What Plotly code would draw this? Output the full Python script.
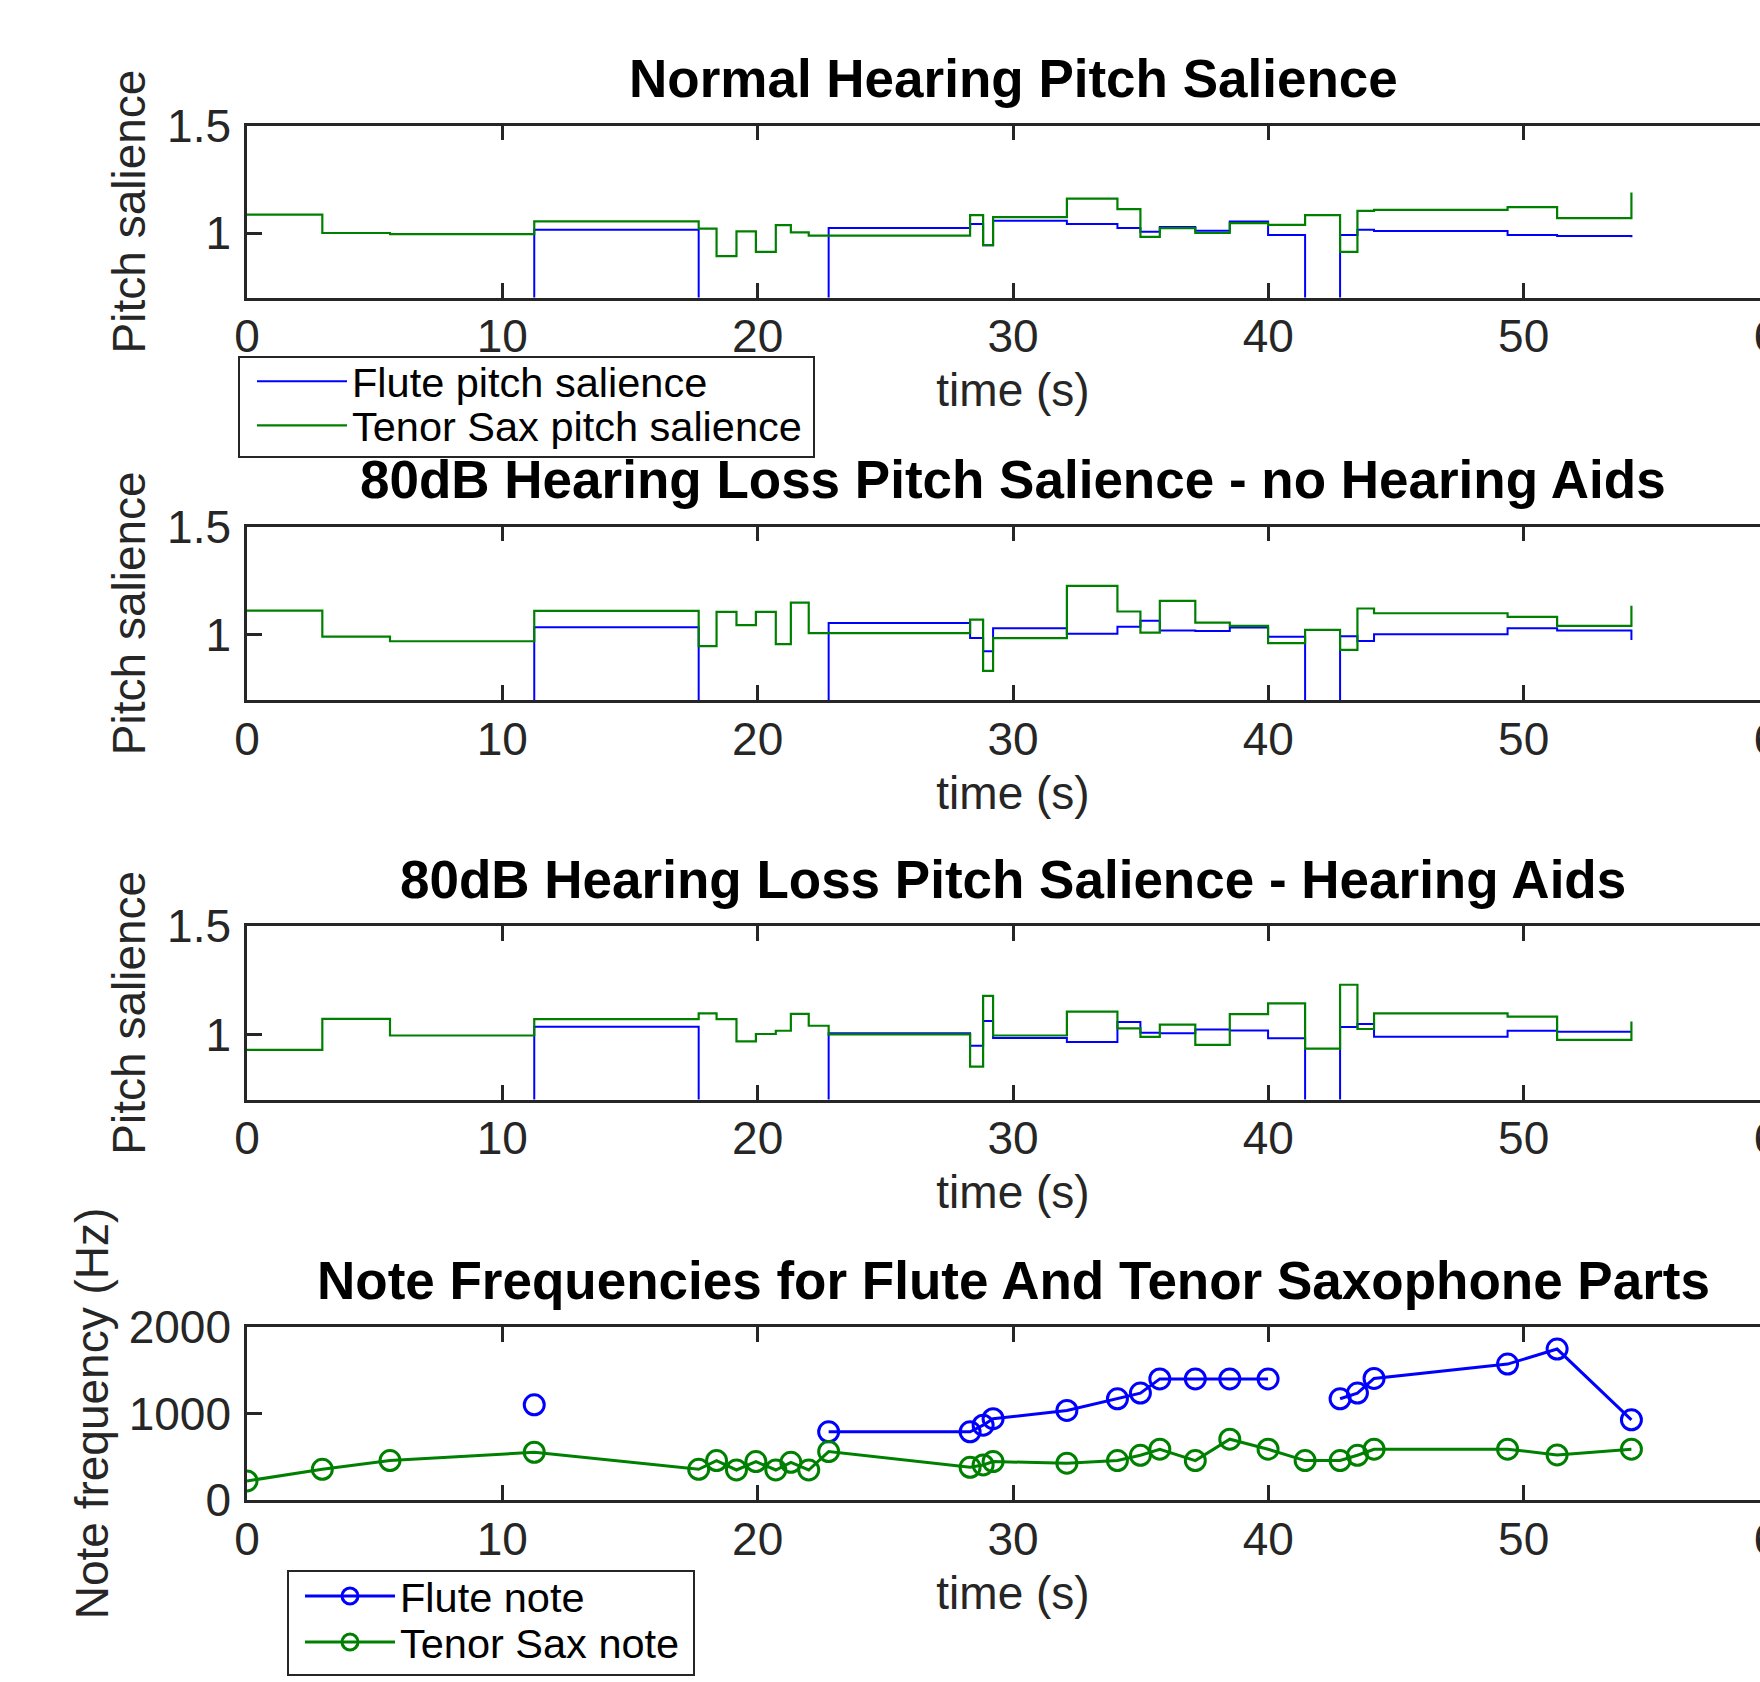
import plotly.graph_objects as go

# ---------------------------------------------------------------- data
# note onset times (s) shared by both parts
onset_times = [0, 2.95, 5.6, 11.25, 17.69, 18.39, 19.17, 19.93, 20.71, 21.3, 22.0,
               22.78, 28.32, 28.83, 29.22, 32.11, 34.09, 34.99, 35.75, 37.14, 38.49,
               39.99, 41.44, 42.81, 43.49, 44.14, 49.37, 51.31, 54.22]

# pitch salience per note (0 = part is resting)
flute_salience_normal = [0, 0, 0, 1.015, 0, 0, 0, 0, 0, 0, 0, 1.023, 1.042, 0.943, 1.057,
                         1.042, 1.023, 1.006, 1.028, 1.011, 1.054, 0.991, 0, 0.991, 1.015,
                         1.009, 0.991, 0.986, 0.98]
sax_salience_normal = [1.085, 1.0, 0.995, 1.054, 1.02, 0.892, 1.008, 0.912, 1.037, 1.003,
                       0.988, 0.988, 1.083, 0.943, 1.074, 1.16, 1.111, 0.982, 1.023, 1.0,
                       1.046, 1.038, 1.083, 0.912, 1.103, 1.108, 1.12, 1.069, 1.188]

flute_salience_loss = [0, 0, 0, 1.035, 0, 0, 0, 0, 0, 0, 0, 1.055, 0.986, 0.925, 1.031,
                       1.005, 1.038, 1.065, 1.02, 1.018, 1.034, 0.992, 0, 0.994, 0.972,
                       1.003, 1.031, 1.02, 0.977]
sax_salience_loss = [1.112, 0.992, 0.971, 1.111, 0.948, 1.106, 1.045, 1.106, 0.958, 1.149,
                     1.008, 1.008, 1.071, 0.834, 0.985, 1.226, 1.108, 1.011, 1.157, 1.057,
                     1.042, 0.962, 1.023, 0.931, 1.122, 1.1, 1.083, 1.042, 1.135]

flute_salience_aided = [0, 0, 0, 1.035, 0, 0, 0, 0, 0, 0, 0, 1.005, 0.948, 1.062, 0.983,
                        0.965, 1.057, 1.008, 1.006, 1.023, 1.018, 0.982, 0, 1.034, 1.048,
                        0.989, 1.017, 1.012, 1.012]
sax_salience_aided = [0.929, 1.072, 0.995, 1.071, 1.097, 1.071, 0.968, 1.002, 1.017, 1.095,
                      1.04, 1.0, 0.852, 1.178, 0.995, 1.105, 1.028, 0.989, 1.045, 0.952,
                      1.094, 1.143, 0.935, 1.229, 1.025, 1.097, 1.082, 0.975, 1.06]

# note frequencies (Hz); None where the part rests
flute_note_hz = [None, None, None, 1100, None, None, None, None, None, None, None, 788,
                 788, 865, 940, 1035, 1170, 1236, 1400, 1400, 1400, 1400, None, 1170,
                 1236, 1405, 1571, 1745, 927]
sax_note_hz = [220, 355, 456, 552, 355, 456, 347, 444, 347, 436, 347, 560, 378, 405, 444,
               425, 456, 517, 587, 456, 703, 587, 456, 456, 517, 587, 587, 521, 587]

panel_titles = ["Normal Hearing Pitch Salience",
                "80dB Hearing Loss Pitch Salience - no Hearing Aids",
                "80dB Hearing Loss Pitch Salience - Hearing Aids",
                "Note Frequencies for Flute And Tenor Saxophone Parts"]
x_label = "time (s)"
salience_label = "Pitch salience"
freq_label = "Note frequency (Hz)"
legend_names = ["Flute pitch salience", "Tenor Sax pitch salience",
                "Flute note", "Tenor Sax note"]

# ---------------------------------------------------------------- style
FONT = "Liberation Sans"
AX = "#262626"
BLUE = "#0000FF"
GREEN = "#008000"
W, H = 1800, 1682
ML, MR = 247, 21
PW = W - ML - MR

# vertical extent of each axes box, in pixels from the top
boxes = [(125.5, 297.5), (526.5, 700.0), (926.0, 1099.5), (1327.0, 1500.0)]


def py(px):
    return 1 - px / H


def pxx(px):
    return (px - ML) / PW


fig = go.Figure()

salience_sets = [(flute_salience_normal, sax_salience_normal),
                 (flute_salience_loss, sax_salience_loss),
                 (flute_salience_aided, sax_salience_aided)]

for i, (fl, sx) in enumerate(salience_sets):
    ax = "" if i == 0 else str(i + 1)
    fig.add_trace(go.Scatter(x=onset_times, y=fl, mode="lines", line=dict(color=BLUE, width=2, shape="hv"),
                             name=legend_names[0], showlegend=(i == 0), legend="legend",
                             xaxis="x" + ax, yaxis="y" + ax))
    fig.add_trace(go.Scatter(x=onset_times, y=sx, mode="lines", line=dict(color=GREEN, width=2.2, shape="hv"),
                             name=legend_names[1], showlegend=(i == 0), legend="legend2",
                             xaxis="x" + ax, yaxis="y" + ax))

marker_style = dict(symbol="circle-open", size=20, line=dict(width=3))
fig.add_trace(go.Scatter(x=onset_times, y=flute_note_hz, mode="lines+markers",
                         line=dict(color=BLUE, width=3), marker=dict(color=BLUE, **marker_style),
                         name=legend_names[2], legend="legend3", xaxis="x4", yaxis="y4"))
fig.add_trace(go.Scatter(x=onset_times, y=sax_note_hz, mode="lines+markers",
                         line=dict(color=GREEN, width=3), marker=dict(color=GREEN, **marker_style),
                         name=legend_names[3], legend="legend4", xaxis="x4", yaxis="y4"))

tick_font = dict(family=FONT, size=46, color=AX)
axis_common = dict(showline=True, linewidth=2.5, linecolor=AX, mirror="ticks",
                   ticks="inside", ticklen=15, tickwidth=2.5, tickcolor=AX,
                   showgrid=False, zeroline=False, tickfont=tick_font, automargin=False)

layout = dict(template="none", width=W, height=H,
              margin=dict(l=ML, r=MR, t=0, b=0, autoexpand=False),
              paper_bgcolor="white", plot_bgcolor="white",
              font=dict(family=FONT, color=AX), annotations=[], shapes=[])

for i, (top, bot) in enumerate(boxes):
    ax = "" if i == 0 else str(i + 1)
    is_freq = i == 3
    layout["xaxis" + ax] = dict(domain=[0, 1], anchor="y" + ax, range=[0, 60], tick0=0, dtick=10,
                                ticklabelstandoff=-3, ticklabeloverflow="allow",
                                title=dict(text=x_label, font=dict(family=FONT, size=46, color=AX),
                                           standoff=13),
                                **axis_common)
    layout["yaxis" + ax] = dict(domain=[py(bot), py(top)], anchor="x" + ax,
                                range=[0, 2000] if is_freq else [0.7, 1.5],
                                tick0=0, dtick=1000 if is_freq else 0.5,
                                ticklabelstandoff=4,
                                title=dict(text=freq_label if is_freq else salience_label,
                                           font=dict(family=FONT, size=46, color=AX),
                                           standoff=6 if is_freq else 7),
                                **axis_common)
    layout["annotations"].append(dict(text=panel_titles[i], xref="paper", yref="paper",
                                      x=0.5, y=py(top - 47), xanchor="center", yanchor="middle",
                                      showarrow=False,
                                      font=dict(family=FONT, size=53, color="black", weight="bold")))

# legend frames and per-row legends
legend_boxes = [(239, 814, 357, 457), (288, 694, 1571, 1675)]
for x0, x1, y0, y1 in legend_boxes:
    layout["shapes"].append(dict(type="rect", xref="paper", yref="paper",
                                 x0=pxx(x0), x1=pxx(x1), y0=py(y1), y1=py(y0),
                                 line=dict(color=AX, width=2), fillcolor="white", layer="below"))

legend_rows = [("legend", 252, 381.3), ("legend2", 252, 425.3),
               ("legend3", 300, 1596.0), ("legend4", 300, 1642.0)]
for key, lx, ly in legend_rows:
    layout[key] = dict(x=pxx(lx), y=py(ly), xanchor="left", yanchor="middle",
                       bgcolor="rgba(0,0,0,0)", borderwidth=0, itemwidth=90,
                       font=dict(family=FONT, size=41.5, color="black"))

fig.update_layout(layout)

fig.write_html("out.html",
               post_script="document.documentElement.style.overflow='hidden';"
                           "document.body.style.overflow='hidden';document.body.style.margin='0';")
